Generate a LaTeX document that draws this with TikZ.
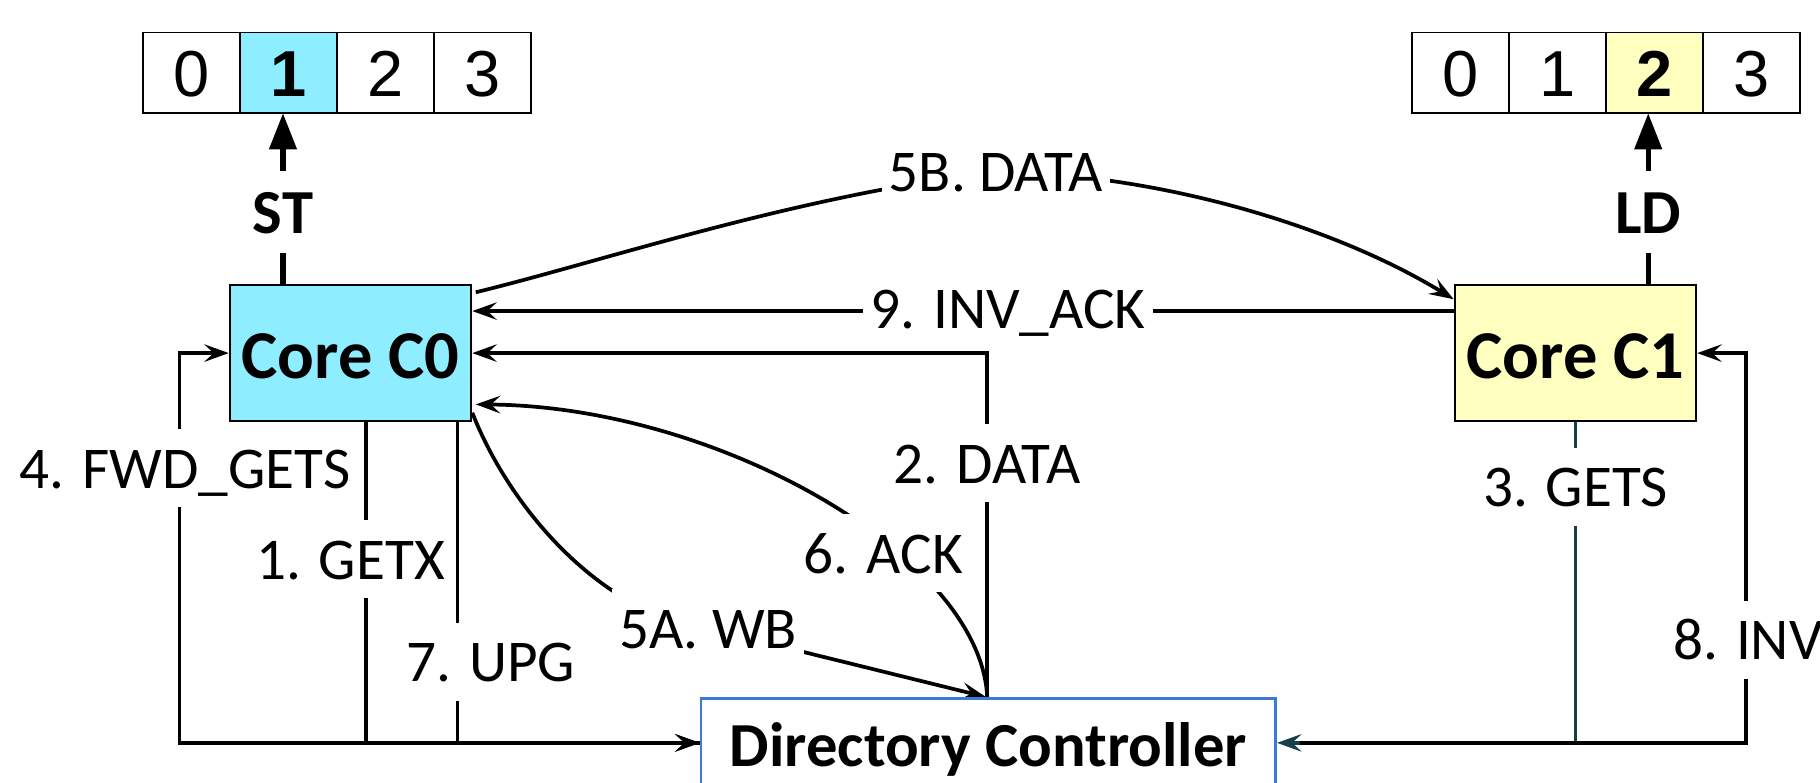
\documentclass[tikz,border=0pt]{standalone}
\usepackage{fontspec}
\setmainfont{Carlito}
\newfontfamily\digitfont{Liberation Sans}
\usetikzlibrary{arrows.meta,calc}

\definecolor{corecyan}{HTML}{8EEEFF}
\definecolor{coreyellow}{HTML}{FFFFC0}
\definecolor{dirblue}{HTML}{3C78D8}
\definecolor{getsteal}{HTML}{163F47}

\pgfdeclarelayer{wires}
\pgfsetlayers{wires,main}

\begin{document}
\begin{tikzpicture}[x=0.5pt, y=-0.5pt,
  cell/.style={draw, line width=0.75pt, minimum width=41.8pt, minimum height=34.75pt,
    inner sep=0pt, outer sep=0pt, font=\digitfont\fontsize{28}{30}\selectfont,
    text height=20pt, text depth=0pt},
  core/.style={draw, line width=0.9pt, minimum width=104pt, minimum height=58.5pt,
    inner sep=0pt, font=\bfseries\fontsize{29.5}{32}\selectfont,
    text height=21.8pt, text depth=0pt},
  dirbox/.style={draw=dirblue, fill=white, line width=1.2pt, minimum width=247.5pt,
    minimum height=38.3pt, inner sep=0pt, font=\bfseries\fontsize{27}{30}\selectfont,
    text height=20.5pt, text depth=0pt},
  msg/.style={fill=white, inner xsep=3pt, inner ysep=8.2pt,
    font=\fontsize{25.5}{28}\selectfont, text height=17.2pt, text depth=0pt},
  op/.style={fill=white, inner xsep=3pt, inner ysep=8.3pt,
    font=\bfseries\fontsize{27}{30}\selectfont, text height=18.2pt, text depth=0pt},
  wire/.style={line width=1.6pt, -{Stealth[length=10.5pt, width=7.5pt, inset=4pt]}},
  feed/.style={line width=2.2pt},
  feedarrow/.style={line width=2.2pt, -{Triangle[length=15.5pt, width=11.5pt]}}
]
\useasboundingbox (0,0) rectangle (1568,674);

% cache line of core C0
\node[cell] (l0) at (164.8,62.85) {0};
\node[cell, fill=corecyan, anchor=west] (l1) at (l0.east) {\bfseries 1};
\node[cell, anchor=west] (l2) at (l1.east) {2};
\node[cell, anchor=west] (l3) at (l2.east) {3};

% cache line of core C1
\node[cell] (r0) at (1258,62.85) {0};
\node[cell, anchor=west] (r1) at (r0.east) {1};
\node[cell, fill=coreyellow, anchor=west] (r2) at (r1.east) {\bfseries 2};
\node[cell, anchor=west] (r3) at (r2.east) {3};

% cores and directory
\node[core, fill=corecyan] (c0) at (302,304.2) {Core C0};
\node[core, fill=coreyellow] (c1) at (1357.3,304.2) {Core C1};
\node[dirbox] (dir) at (851.5,640) {Directory Controller};

% operations
\node[op] (st) at (243.8,182.8) {ST};
\node[op] (ld) at (1420,182.8) {LD};

% message labels
\node[msg] (m5b) at (858,147.8) {5B. DATA};
\node[msg] (m9) at (868.4,265.8) {9. INV\_ACK};
\node[msg] (m2) at (850.5,399.2) {2. DATA};
\node[msg] (m6) at (761,476.8) {6. ACK};
\node[msg] (m5a) at (610,541.4) {5A. WB};
\node[msg] (m4) at (159.4,403.5) {4. FWD\_GETS};
\node[msg] (m1) at (302,481.8) {1. GETX};
\node[msg] (m7) at (423,570.1) {7. UPG};
\node[msg] (m3) at (1357.3,419.3) {3. GETS};
\node[msg] (m8) at (1506,551.4) {8. INV};

\begin{pgfonlayer}{wires}
  % store and load into the cache lines
  \draw[feed] (st.south |- c0.north) -- (st.south);
  \draw[feedarrow] (st.north) -- (st.north |- l1.south);
  \draw[feed] (ld.south |- c1.north) -- (ld.south);
  \draw[feedarrow] (ld.north) -- (ld.north |- r2.south);

  % 5B: data forwarded from C0 to C1
  \draw[wire] ([xshift=1.5pt,yshift=-3.5pt]c0.north east)
      .. controls (520,225) and (680,170) .. (m5b.center)
      .. controls (1000,150) and (1150,195) .. ([yshift=-6.5pt]c1.north west);

  % 9: invalidation ack from C1
  \draw[wire] ([yshift=18.1pt]c1.west) -- ([yshift=18.1pt]c0.east);

  % 2: data from the directory
  \draw[wire] (m2 |- dir.north) -- (m2.center) |- (c0.east);

  % 6: ack from the directory
  \draw[wire] (m2 |- dir.north) .. controls (845,480) and (620,350)
      .. ([xshift=1.5pt,yshift=7.6pt]c0.south east);

  % 5A: writeback to the directory
  \draw[wire] ([yshift=4pt]c0.south east) .. controls (440,440) and (520,530)
      .. (m5a.center) -- ([xshift=-1pt]dir.north);

  % 1 and 7: requests from C0
  \draw[wire] ([xshift=6.7pt]c0.south) |- (dir.west);
  \draw[wire] ([xshift=46.1pt]c0.south) |- (dir.west);

  % 4: forwarded GETS to C0
  \draw[wire] (dir.west) -| ([xshift=-21.25pt]c0.west) -- (c0.west);

  % 3: request from C1
  \draw[wire, draw=getsteal] (c1.south) |- (dir.east);

  % 8: invalidation to C1
  \draw[wire, shorten <=10pt] (dir.east) -| ([xshift=21pt]c1.east) -- (c1.east);
\end{pgfonlayer}
\end{tikzpicture}
\end{document}
